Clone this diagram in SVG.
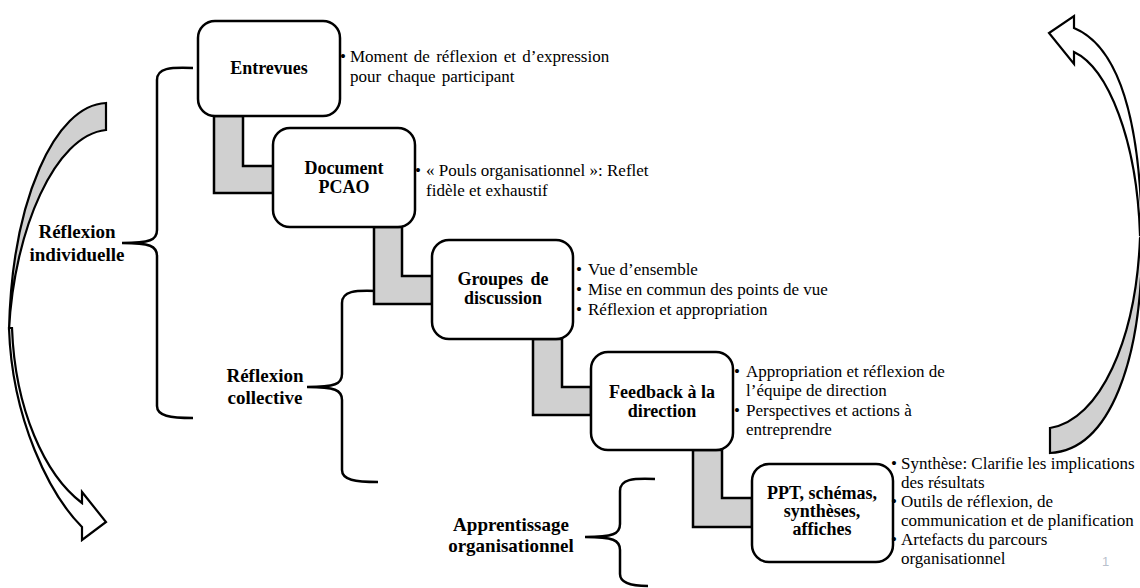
<svg xmlns="http://www.w3.org/2000/svg" width="1140" height="588" viewBox="0 0 1140 588" font-family="Liberation Serif, DejaVu Serif, serif">
<style>
.box{fill:#fff;stroke:#000;stroke-width:2.5}
.conn{fill:#d0d0d0;stroke:#000;stroke-width:2.5;stroke-linejoin:miter}
.brace{fill:none;stroke:#000;stroke-width:2.5}
.arw{stroke:#000;stroke-width:2.2;stroke-linejoin:miter}
.lbl{font-weight:bold;font-size:18px;text-anchor:middle;fill:#000}
.side{font-weight:bold;font-size:19px;text-anchor:middle;fill:#000}
.bul{font-size:17px;fill:#000}
.pg{font-size:13px;fill:#b8c0cc}
</style>
<rect width="1140" height="588" fill="#fff"/>

<g id="arrow-left">
<path class="arw" fill="#d0d0d0" d="M106,103 C55,105 12,200 9,330 C14,230 55,135 106,130 Z"/>
<path class="arw" fill="#fff" d="M9,328 C12,420 50,495 82,527 L82,540 L106,522 L82,492 L82,503 C45,475 15,410 12,328 Z"/>
</g>
<g id="arrow-right">
<path class="arw" fill="#fff" d="M1074,28 C1115,45 1140,110 1142,235 L1140,235 C1137,140 1108,68 1074,52 L1074,64 L1049,33 L1074,16 Z"/>
<path class="arw" fill="#d0d0d0" d="M1142,235 C1143,360 1110,450 1050,453 L1050,428 C1100,420 1136,340 1140,238 Z"/>
</g>

<g id="braces">
<path class="brace" d="M193,68 C170,67 157,68 157,80 L157,230 C157,240 150,243 122,243 C150,243 157,246 157,256 L157,406 C157,416 170,418 193,418"/>
<path class="brace" d="M377,291 C355,290 342,291 342,303 L342,374 C342,384 335,387 307,387 C335,387 342,390 342,400 L342,470 C342,480 355,482 378,482"/>
<path class="brace" d="M655,479 C633,478 620,479 620,491 L620,524 C620,534 613,537 585,537 C613,537 620,540 620,550 L620,574 C620,584 633,586 648,586"/>
</g>

<g id="connectors">
<path class="conn" d="M214,116 L243,116 L243,166 L273,166 L273,193 L214,193 Z"/>
<path class="conn" d="M374,227 L402,227 L402,276 L432,276 L432,304 L374,304 Z"/>
<path class="conn" d="M533,339 L562,339 L562,387 L591,387 L591,415 L533,415 Z"/>
<path class="conn" d="M693,450 L722,450 L722,498 L752,498 L752,527 L693,527 Z"/>
</g>

<g id="node-entrevues">
<rect class="box" x="198" y="21" width="142" height="95" rx="17"/>
<text class="lbl" x="269" y="74">Entrevues</text>
<text class="bul" x="340" y="62">•</text>
<text class="bul" x="350" y="62" word-spacing="2">Moment de réflexion et d’expression</text>
<text class="bul" x="350" y="82" word-spacing="2">pour chaque participant</text>
</g>

<g id="node-document">
<rect class="box" x="273" y="128" width="142" height="99" rx="17"/>
<text class="lbl" x="344" y="174">Document</text>
<text class="lbl" x="344" y="193">PCAO</text>
<text class="bul" x="415" y="176">•</text>
<text class="bul" x="426" y="176">« Pouls organisationnel  »: Reflet</text>
<text class="bul" x="426" y="196">fidèle et exhaustif</text>
</g>

<g id="node-groupes">
<rect class="box" x="432" y="240" width="141" height="99" rx="17"/>
<text class="lbl" x="503" y="285" word-spacing="3">Groupes de</text>
<text class="lbl" x="503" y="304">discussion</text>
<text class="bul" x="576" y="275">•</text>
<text class="bul" x="588" y="275">Vue d’ensemble</text>
<text class="bul" x="576" y="295">•</text>
<text class="bul" x="588" y="295">Mise en commun des points de vue</text>
<text class="bul" x="576" y="315">•</text>
<text class="bul" x="588" y="315">Réflexion et appropriation</text>
</g>

<g id="node-feedback">
<rect class="box" x="591" y="352" width="142" height="98" rx="17"/>
<text class="lbl" x="662" y="398">Feedback à la</text>
<text class="lbl" x="662" y="417">direction</text>
<text class="bul" x="734" y="377">•</text>
<text class="bul" x="746" y="377">Appropriation et réflexion de</text>
<text class="bul" x="746" y="396">l’équipe de direction</text>
<text class="bul" x="734" y="416">•</text>
<text class="bul" x="746" y="416">Perspectives et actions à</text>
<text class="bul" x="746" y="435">entreprendre</text>
</g>

<g id="node-ppt">
<rect class="box" x="752" y="464" width="141" height="98" rx="17"/>
<text class="lbl" x="822" y="499">PPT, schémas,</text>
<text class="lbl" x="822" y="517">synthèses,</text>
<text class="lbl" x="822" y="535">affiches</text>
<text class="bul" x="891" y="469">•</text>
<text class="bul" x="901" y="469">Synthèse: Clarifie les implications</text>
<text class="bul" x="901" y="488">des résultats</text>
<text class="bul" x="891" y="507">•</text>
<text class="bul" x="901" y="507">Outils de réflexion, de</text>
<text class="bul" x="901" y="526">communication et de planification</text>
<text class="bul" x="891" y="545">•</text>
<text class="bul" x="901" y="545">Artefacts du parcours</text>
<text class="bul" x="901" y="564">organisationnel</text>
</g>

<g id="label-individuelle">
<text class="side" x="77" y="238">Réflexion</text>
<text class="side" x="77" y="261">individuelle</text>
</g>
<g id="label-collective">
<text class="side" x="265" y="382">Réflexion</text>
<text class="side" x="265" y="404">collective</text>
</g>
<g id="label-apprentissage">
<text class="side" x="511" y="531">Apprentissage</text>
<text class="side" x="511" y="552">organisationnel</text>
</g>

<text class="pg" x="1102" y="566" font-family="Liberation Sans, Arial, sans-serif">1</text>
</svg>
